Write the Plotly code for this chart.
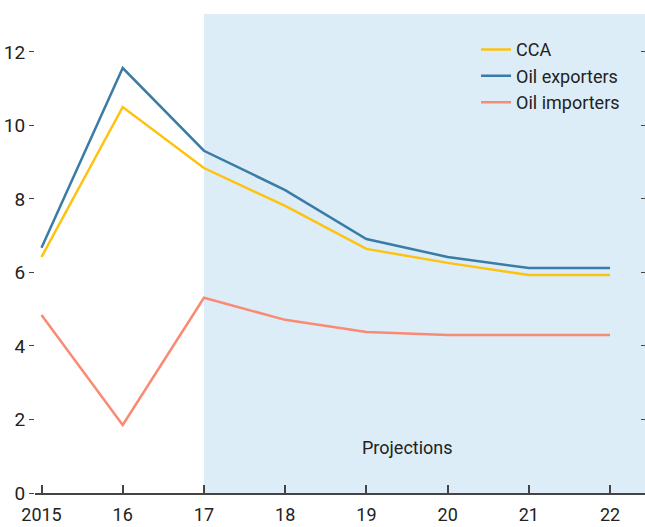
import plotly.graph_objects as go

years = [2015, 2016, 2017, 2018, 2019, 2020, 2021, 2022]
tick_text = ["2015", "16", "17", "18", "19", "20", "21", "22"]

cca = [6.42, 10.5, 8.84, 7.81, 6.64, 6.26, 5.93, 5.93]
oil_exporters = [6.67, 11.56, 9.31, 8.24, 6.91, 6.42, 6.12, 6.12]
oil_importers = [4.84, 1.85, 5.31, 4.71, 4.38, 4.30, 4.30, 4.30]

projection_start = 2017
font_family = "Roboto, sans-serif"

fig = go.Figure()
fig.add_trace(go.Scatter(x=years, y=cca, name="CCA", mode="lines",
                         line=dict(color="#FFC20E", width=2.5)))
fig.add_trace(go.Scatter(x=years, y=oil_exporters, name="Oil exporters", mode="lines",
                         line=dict(color="#3A7CA5", width=2.5)))
fig.add_trace(go.Scatter(x=years, y=oil_importers, name="Oil importers", mode="lines",
                         line=dict(color="#FA8A74", width=2.5)))

# projections shading
fig.add_vrect(x0=projection_start, x1=2022.5, fillcolor="#DCEDF8", line_width=0, layer="below")
fig.add_annotation(x=2019.5, y=1.25, text="Projections", showarrow=False,
                   font=dict(size=18, color="#222"))

# right-hand tick marks, no labels
fig.add_trace(go.Scatter(x=[None], y=[None], yaxis="y2", showlegend=False))

fig.update_layout(
    width=645, height=527,
    margin=dict(l=35, r=0, t=14, b=34, autoexpand=False),
    plot_bgcolor="white", paper_bgcolor="white",
    font=dict(family=font_family, size=18, color="#222"),
    showlegend=True,
    legend=dict(x=0.723, y=0.964, xanchor="left", yanchor="top",
                bgcolor="rgba(0,0,0,0)", font=dict(size=18), tracegroupgap=0),
    xaxis=dict(range=[2014.92, 2022.43], tickvals=years, ticktext=tick_text,
               showgrid=False, zeroline=False, showline=True, linecolor="#444",
               linewidth=1.5, ticks="inside", ticklen=8, tickcolor="#444", tickwidth=1.5,
               automargin=False, tickfont=dict(size=18), ticklabelstandoff=5),
    yaxis=dict(range=[0, 13.03], tickvals=[0, 2, 4, 6, 8, 10, 12],
               showgrid=False, zeroline=False, showline=False,
               ticks="outside", ticklen=5, tickcolor="#444", tickwidth=1.2,
               automargin=False, tickfont=dict(size=19)),
    yaxis2=dict(range=[0, 13.03], overlaying="y", side="right",
                tickvals=[2, 4, 6, 8, 10, 12], showticklabels=False,
                showgrid=False, zeroline=False, showline=False,
                ticks="inside", ticklen=4, tickcolor="#444", tickwidth=1,
                automargin=False),
)

fig.write_html("out.html", config={"displayModeBar": False},
               post_script="document.body.style.margin='0';")
